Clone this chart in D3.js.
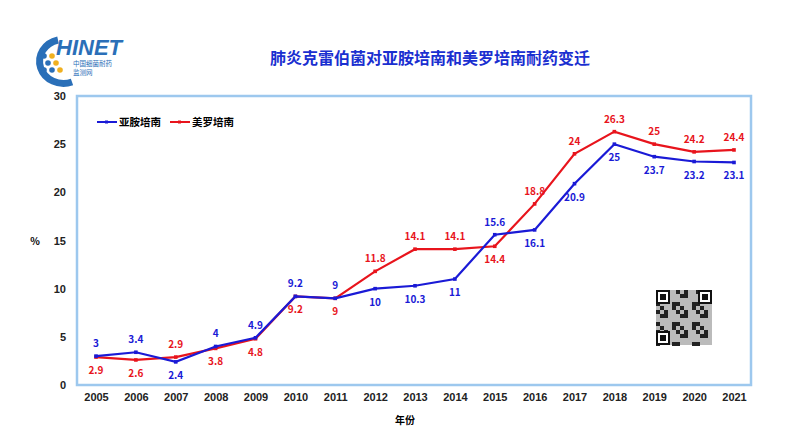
<!DOCTYPE html>
<html><head><meta charset="utf-8">
<script src="https://cdn.jsdelivr.net/npm/d3@7"></script>
<style>body{margin:0;background:#fff}svg{font-family:"Noto Sans CJK SC","DejaVu Sans",sans-serif}</style>
</head><body><svg id="c" width="797" height="427"></svg>
<script>
const years = ["2005","2006","2007","2008","2009","2010","2011","2012","2013","2014","2015","2016","2017","2018","2019","2020","2021"];
const imipenem = [3,3.4,2.4,4,4.9,9.2,9,10,10.3,11,15.6,16.1,20.9,25,23.7,23.2,23.1];
const meropenem = [2.9,2.6,2.9,3.8,4.8,9.2,9,11.8,14.1,14.1,14.4,18.8,24,26.3,25,24.2,24.4];
const imiSide = ["u","u","d","u","u","u","u","d","d","d","u","d","d","d","d","d","d"];
const meroSide = ["d","d","u","d","d","d","d","u","u","u","d","u","u","u","u","u","u"];
const yTicks = [0,5,10,15,20,25,30];

const svg = d3.select("#c");
const x = d3.scalePoint().domain(years).range([96,734]);
const y = d3.scaleLinear().domain([0,30]).range([385,96]);

svg.append("rect").attr("x",77).attr("y",96).attr("width",674).attr("height",289)
  .attr("fill","none").attr("stroke","#9dc8ee").attr("stroke-width",2.5);

const ya = svg.append("g").attr("transform","translate(70,0)")
  .call(d3.axisLeft(y).tickValues(yTicks).tickSize(0).tickPadding(4));
ya.select(".domain").remove();
ya.selectAll("text").attr("font-size",11).attr("font-weight","bold").attr("fill","#222");
const xa = svg.append("g").attr("transform","translate(0,391)")
  .call(d3.axisBottom(x).tickSize(0).tickPadding(2));
xa.select(".domain").remove();
xa.selectAll("text").attr("font-size",11).attr("font-weight","bold").attr("fill","#222");

svg.append("text").attr("x",430).attr("y",64).attr("text-anchor","middle").attr("font-size",16)
  .attr("font-weight","bold").attr("fill","#1a2fd0").text("肺炎克雷伯菌对亚胺培南和美罗培南耐药变迁");
svg.append("text").attr("x",35).attr("y",245).attr("text-anchor","middle").attr("font-size",10).attr("font-weight","bold").text("%");
svg.append("text").attr("x",405).attr("y",424).attr("text-anchor","middle").attr("font-size",10).attr("font-weight","bold").text("年份");

function series(vals, color, side){
  const line = d3.line().x((d,i)=>x(years[i])).y(d=>y(d));
  svg.append("path").datum(vals).attr("d",line).attr("fill","none").attr("stroke",color).attr("stroke-width",2.2);
  svg.selectAll(null).data(vals).enter().append("rect")
    .attr("x",(d,i)=>x(years[i])-1.8).attr("y",d=>y(d)-1.8).attr("width",3.6).attr("height",3.6).attr("fill",color);
  svg.selectAll(null).data(vals).enter().append("text")
    .attr("x",(d,i)=>x(years[i])).attr("y",(d,i)=>y(d)+(side[i]==="u"?-9:17))
    .attr("text-anchor","middle").attr("font-size",10).attr("font-weight","bold").attr("fill",color).text(d=>d);
}
series(meropenem,"#e8141c",meroSide);
series(imipenem,"#1a1ad6",imiSide);

const lg = svg.append("g");
[["亚胺培南","#1a1ad6",97],["美罗培南","#e8141c",170]].forEach(([t,c,lx])=>{
  lg.append("line").attr("x1",lx).attr("x2",lx+20).attr("y1",122).attr("y2",122).attr("stroke",c).attr("stroke-width",2);
  lg.append("rect").attr("x",lx+8).attr("y",120.5).attr("width",3).attr("height",3).attr("fill",c);
  lg.append("text").attr("x",lx+22).attr("y",126).attr("font-size",10.5).attr("font-weight","bold").text(t);
});

// logo
const logo = svg.append("g");
logo.append("path").attr("d","M58,40 A24,22 0 1 0 72,82").attr("fill","none").attr("stroke","#2a6fb8").attr("stroke-width",7);
logo.append("text").attr("x",56).attr("y",55).attr("font-size",22).attr("font-weight","bold").attr("font-style","italic")
  .attr("fill","#2a6fb8").attr("font-family","Liberation Sans, Arial").text("HINET");
logo.append("text").attr("x",73).attr("y",66).attr("font-size",6.5).attr("fill","#2a6fb8").text("中国细菌耐药");
logo.append("text").attr("x",73).attr("y",75).attr("font-size",6.5).attr("fill","#2a6fb8").text("监测网");
[[44,56],[52,56],[40,63],[48,63],[56,63],[44,70],[52,70],[60,70]].forEach(([cx,cy],i)=>
  logo.append("circle").attr("cx",cx).attr("cy",cy).attr("r",2.8).attr("fill",i%3===1?"#f0b020":"#2a6fb8"));

const q = svg.append("g").attr("transform","translate(656,290)");
q.append("rect").attr("width",56).attr("height",55).attr("fill","#bbb");
for(let r=0;r<14;r++)for(let c=0;c<14;c++){ if(((r*7+c*3+r*c)%5)<2) q.append("rect").attr("x",c*4).attr("y",r*4).attr("width",4).attr("height",4).attr("fill","#222");}
[[0,0],[42,0],[0,41]].forEach(([a,b])=>{
  q.append("rect").attr("x",a).attr("y",b).attr("width",14).attr("height",14).attr("fill","#111");
  q.append("rect").attr("x",a+2).attr("y",b+2).attr("width",10).attr("height",10).attr("fill","#fff");
  q.append("rect").attr("x",a+4).attr("y",b+4).attr("width",6).attr("height",6).attr("fill","#111");
});
</script></body></html>
